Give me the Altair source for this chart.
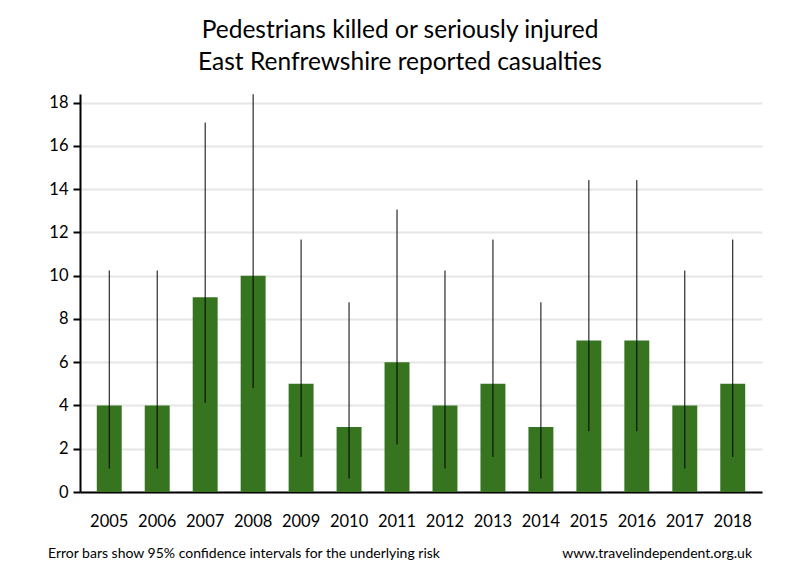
import altair as alt
import pandas as pd

years = ["2005", "2006", "2007", "2008", "2009", "2010", "2011",
         "2012", "2013", "2014", "2015", "2016", "2017", "2018"]
casualties = [4, 4, 9, 10, 5, 3, 6, 4, 5, 3, 7, 7, 4, 5]
ci_low = [1.09, 1.09, 4.12, 4.80, 1.62, 0.62, 2.20, 1.09, 1.62, 0.62, 2.81, 2.81, 1.09, 1.62]
ci_high = [10.24, 10.24, 17.08, 18.39, 11.67, 8.77, 13.06, 10.24, 11.67, 8.77, 14.42, 14.42, 10.24, 11.67]
y_ticks = [0, 2, 4, 6, 8, 10, 12, 14, 16, 18]

title_lines = ["Pedestrians killed or seriously injured", "East Renfrewshire reported casualties"]
footer_left = "Error bars show 95% confidence intervals for the underlying risk"
footer_right = "www.travelindependent.org.uk"

df = pd.DataFrame({"year": years, "value": casualties, "lo": ci_low, "hi": ci_high})

W, H = 682, 398
FONT = "Lato"

x = alt.X("year:N", title=None, sort=years,
          scale=alt.Scale(paddingInner=0.48, paddingOuter=0.35),
          axis=alt.Axis(labelAngle=0, labelFontSize=16.5, labelFont=FONT, labelColor="black",
                        ticks=False, labelPadding=21, domainColor="black", domainWidth=2,
                        grid=False))
y = alt.Y("value:Q", title=None,
          scale=alt.Scale(domain=[0, 18.4], nice=False, clamp=True),
          axis=alt.Axis(values=y_ticks, labelFontSize=16.5, labelFont=FONT, labelColor="black",
                        tickSize=7, tickWidth=2, tickColor="black", labelPadding=5,
                        domainColor="black", domainWidth=2, gridColor="#e6e6e6",
                        gridWidth=2))

base = alt.Chart(df)
bars = base.mark_bar(color="#36741f").encode(x=x, y=y)
err = base.mark_rule(color="black", strokeWidth=1).encode(
    x=alt.X("year:N", sort=years), y=alt.Y("lo:Q"), y2="hi:Q")

one = alt.Data(values=[{"k": 1}])
t1 = alt.Chart(one).mark_text(text=title_lines[0], font=FONT, fontSize=24.5, color="black",
                              align="center", baseline="alphabetic").encode(
    x=alt.value(320), y=alt.value(-56))
t2 = alt.Chart(one).mark_text(text=title_lines[1], font=FONT, fontSize=24.5, color="black",
                              align="center", baseline="alphabetic").encode(
    x=alt.value(320), y=alt.value(-24))
f1 = alt.Chart(one).mark_text(text=footer_left, font=FONT, fontSize=14, color="black",
                              align="left", baseline="alphabetic").encode(
    x=alt.value(-32), y=alt.value(464))
f2 = alt.Chart(one).mark_text(text=footer_right, font=FONT, fontSize=14, color="black",
                              align="right", baseline="alphabetic").encode(
    x=alt.value(672), y=alt.value(464))

chart = alt.layer(bars, err, t1, t2, f1, f2).properties(
    width=W, height=H,
    padding={"left": 80, "top": 94, "right": 38, "bottom": 88},
    autosize=alt.AutoSizeParams(type="none"),
    background="white",
).configure_view(stroke=None)

chart.save("out.html", embed_options={"renderer": "svg", "actions": False})
